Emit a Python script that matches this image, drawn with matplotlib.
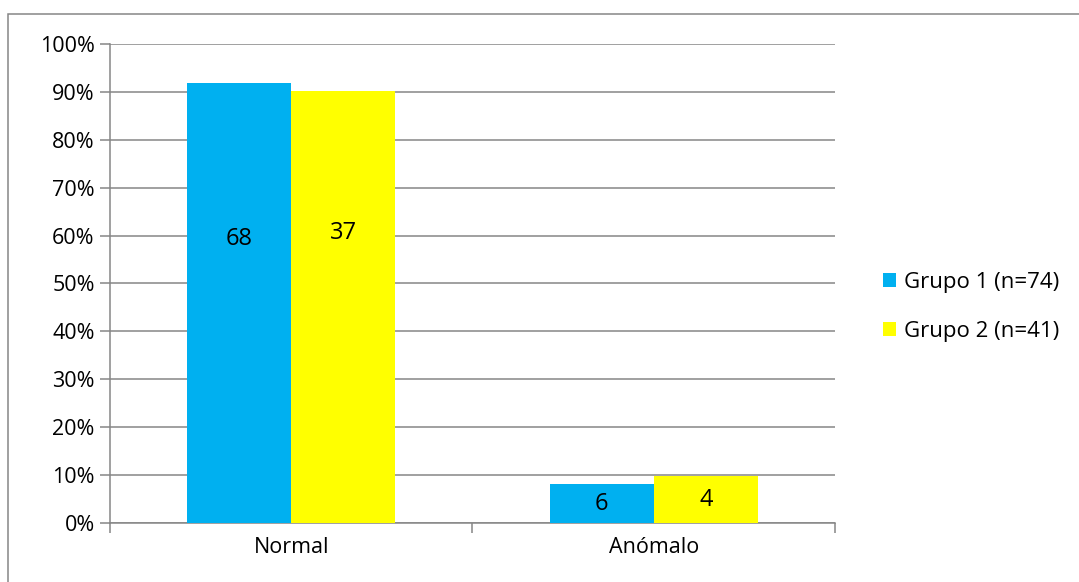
import numpy as np
import matplotlib.pyplot as plt
from matplotlib.patches import Rectangle
from matplotlib.ticker import PercentFormatter

categories = ["Normal", "Anómalo"]
grupo1_counts = [68, 6]
grupo2_counts = [37, 4]
grupo1_n = 74
grupo2_n = 41
series_labels = ["Grupo 1 (n=74)", "Grupo 2 (n=41)"]
# height (fraction) where each count label sits; None = middle of the bar
label_y1 = [0.593, None]
label_y2 = [0.605, None]

plt.rcParams['font.family'] = ['Open Sans', 'DejaVu Sans']

p1 = np.array(grupo1_counts) / grupo1_n
p2 = np.array(grupo2_counts) / grupo2_n

fig = plt.figure(figsize=(10.79, 5.82), dpi=100)
ax = fig.add_axes([0.1019, 0.1014, 0.672, 0.823])

x = np.arange(len(categories))
w = 0.287
b1 = ax.bar(x - w / 2, p1, w, color="#00B0F0", label=series_labels[0], zorder=3)
b2 = ax.bar(x + w / 2, p2, w, color="#FFFF00", label=series_labels[1], zorder=3)

for i in range(len(categories)):
    y1 = label_y1[i] if label_y1[i] is not None else p1[i] / 2
    y2 = label_y2[i] if label_y2[i] is not None else p2[i] / 2
    ax.text(x[i] - w / 2, y1, str(grupo1_counts[i]), ha="center", va="center", fontsize=17, zorder=4)
    ax.text(x[i] + w / 2, y2, str(grupo2_counts[i]), ha="center", va="center", fontsize=17, zorder=4)

ax.set_xlim(-0.5, 1.5)
ax.set_ylim(0, 1)
ax.set_yticks(np.arange(0, 1.01, 0.1))
ax.yaxis.set_major_formatter(PercentFormatter(1.0, decimals=0))
ax.grid(axis="y", color="#868686", linewidth=1.1, zorder=0)

ax.set_xticks(x)
ax.set_xticklabels(categories)
ax.set_xticks([-0.5, 0.5, 1.5], minor=True)
ax.tick_params(axis="x", which="major", length=0, pad=10, labelsize=15.5)
ax.tick_params(axis="x", which="minor", length=7, color="#868686", width=1.1)
ax.tick_params(axis="y", length=7, color="#868686", width=1.1, labelsize=15.5, pad=4)

for s in ["top", "right"]:
    ax.spines[s].set_visible(False)
for s in ["left", "bottom"]:
    ax.spines[s].set_color("#868686")
    ax.spines[s].set_linewidth(1.1)

leg = fig.legend(handles=[b1, b2], loc="center left", bbox_to_anchor=(0.808, 0.473),
                 frameon=False, fontsize=16, handlelength=0.6, handleheight=0.6,
                 handletextpad=0.35, labelspacing=1.25, borderpad=0)

# outer chart border
fig.patches.append(Rectangle((8 / 1079, -0.05), 1.1, 1 - 14 / 582 + 0.05,
                             transform=fig.transFigure, fill=False,
                             edgecolor="#868686", linewidth=1.1))

fig.savefig("out.png", dpi=100)
